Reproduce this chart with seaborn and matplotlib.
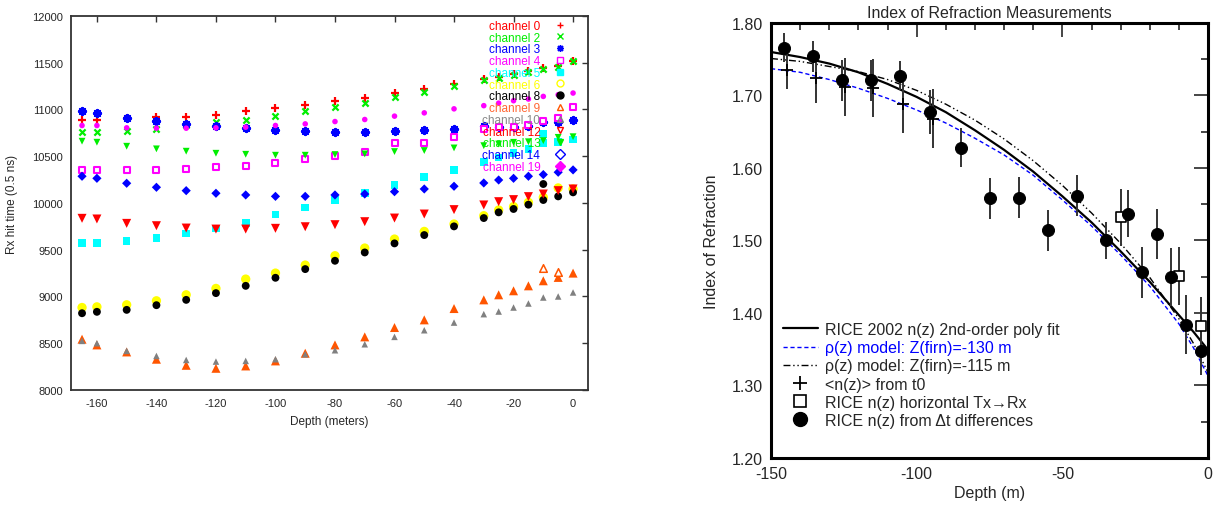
import matplotlib
matplotlib.use("Agg")
import matplotlib.pyplot as plt
from matplotlib.lines import Line2D
from matplotlib.ticker import MultipleLocator, FormatStrFormatter
import seaborn as sns

sns.set_style("white")
plt.rcParams['font.family'] = ['Liberation Sans', 'DejaVu Sans']
plt.rcParams['axes.unicode_minus'] = False

# ---------------- left panel data ----------------
depths = [-165, -160, -150, -140, -130, -120, -110, -100, -90, -80, -70,
          -60, -50, -40, -30, -25, -20, -15, -10, -5, 0]

ch0 = [10893, 10893, 10905, 10918, 10925, 10946, 10979, 11011, 11050, 11089, 11125,
       11179, 11219, 11275, 11330, 11348, 11380, 11410, 11440, 11468, 11515]
ch2 = [10757, 10757, 10768, 10793, 10830, 10864, 10889, 10929, 10979, 11025, 11071,
       11132, 11186, 11251, 11320, 11340, 11365, 11398, 11430, 11455, 11520]
ch3 = [10979, 10961, 10911, 10882, 10846, 10821, 10800, 10782, 10775, 10764, 10764,
       10775, 10786, 10793, 10820, 10812, 10815, 10828, 10862, 10866, 10888]
ch4 = [10357, 10357, 10354, 10350, 10364, 10382, 10400, 10429, 10471, 10507, 10543,
       10643, 10643, 10704, 10790, 10818, 10818, 10836, 10880, 10905, 11027]
ch5 = [9571, 9571, 9596, 9625, 9675, 9729, 9786, 9875, 9950, 10032, 10104,
       10193, 10275, 10354, 10440, 10485, 10533, 10578, 10639, 10650, 10679]
ch6 = [8882, 8889, 8911, 8954, 9018, 9086, 9186, 9250, 9336, 9436, 9518,
       9614, 9696, 9775, 9864, 9925, 9961, 10007, 10061, 10161, 10150]
ch8 = [8821, 8836, 8857, 8907, 8964, 9036, 9114, 9200, 9293, 9382, 9471,
       9568, 9657, 9750, 9839, 9900, 9936, 9982, 10032, 10071, 10114]
ch9 = [8543, 8482, 8407, 8329, 8264, 8232, 8257, 8311, 8393, 8482, 8568,
       8668, 8750, 8871, 8964, 9018, 9061, 9114, 9168, 9204, 9250]
ch10 = [8525, 8500, 8418, 8364, 8321, 8304, 8311, 8329, 8382, 8425, 8489,
        8568, 8639, 8721, 8811, 8839, 8882, 8925, 8989, 9000, 9043]
ch12 = [9836, 9829, 9782, 9757, 9732, 9721, 9721, 9729, 9746, 9768, 9800,
        9839, 9882, 9929, 9979, 10014, 10036, 10068, 10096, 10132, 10150]
ch13 = [10661, 10650, 10607, 10579, 10554, 10532, 10521, 10511, 10511, 10518, 10525,
        10550, 10561, 10589, 10613, 10631, 10649, 10655, 10667, 10702, 10709]
ch14 = [10286, 10264, 10211, 10168, 10132, 10104, 10086, 10071, 10071, 10086, 10096,
        10121, 10150, 10179, 10214, 10246, 10264, 10286, 10304, 10329, 10354]
ch19 = [10829, 10829, 10804, 10800, 10800, 10804, 10811, 10829, 10846, 10871, 10893,
        10929, 10964, 11007, 11041, 11068, 11094, 11112, 11140, 11158, 11176]

# extra (repeated) hits
extra5_depth, extra5_val = [-10], [10738]
extra8_depth, extra8_val = [-10], [10203]
extra9_depth, extra9_val = [-10, -5], [9304, 9264]

channel_names = ["channel 0", "channel 2", "channel 3", "channel 4", "channel 5",
                 "channel 6", "channel 8", "channel 9", "channel 10", "channel 12",
                 "channel 13", "channel 14", "channel 19"]
channel_values = [ch0, ch2, ch3, ch4, ch5, ch6, ch8, ch9, ch10, ch12, ch13, ch14, ch19]

# ---------------- right panel data ----------------
dt_depth = [-145.7, -135.7, -125.6, -115.8, -105.7, -95.3, -84.9, -74.8, -64.9,
            -54.9, -45.1, -35.0, -27.5, -22.5, -17.4, -12.6, -7.6, -2.5]
dt_n = [1.766, 1.754, 1.721, 1.721, 1.727, 1.677, 1.628, 1.558, 1.559,
        1.514, 1.562, 1.500, 1.537, 1.456, 1.509, 1.450, 1.384, 1.348]
dt_err = [0.020, 0.021, 0.028, 0.028, 0.020, 0.030, 0.027, 0.028, 0.028,
          0.028, 0.028, 0.025, 0.032, 0.035, 0.035, 0.040, 0.041, 0.033]

t0_depth = [-144.6, -134.7, -124.7, -114.9, -104.8, -94.3]
t0_n = [1.735, 1.724, 1.712, 1.711, 1.688, 1.668]
t0_err = [0.026, 0.035, 0.040, 0.040, 0.040, 0.041]

hz_depth = [-30.0, -10.0, -2.5]
hz_n = [1.532, 1.4515, 1.3816]
hz_err = [0.039, 0.040, 0.040]

curve_depth = [-150, -140, -130, -120, -110, -100, -90, -80, -70, -60, -50,
               -40, -30, -20, -10, -5, 0]
poly_fit = [1.760, 1.753, 1.744, 1.732, 1.716, 1.698, 1.677, 1.652, 1.625, 1.595,
            1.561, 1.525, 1.485, 1.443, 1.397, 1.374, 1.349]
model_130 = [1.737, 1.732, 1.722, 1.710, 1.696, 1.680, 1.662, 1.641, 1.618, 1.590,
             1.556, 1.520, 1.480, 1.437, 1.385, 1.352, 1.313]
model_115 = [1.751, 1.747, 1.740, 1.733, 1.722, 1.707, 1.688, 1.666, 1.640, 1.610,
             1.576, 1.538, 1.496, 1.449, 1.392, 1.358, 1.318]

legend_labels_right = ["RICE 2002 n(z) 2nd-order poly fit",
                       "\u03c1(z) model: Z(firn)=-130 m",
                       "\u03c1(z) model: Z(firn)=-115 m",
                       "<n(z)> from t0",
                       "RICE n(z) horizontal Tx\u2192Rx",
                       "RICE n(z) from \u0394t differences"]

# ---------------- styles ----------------
styles = {
    "channel 0": dict(color='#ff0000', marker='+', s=30, lw=1.6, leg=dict(marker='+', mfc='#ff0000')),
    "channel 2": dict(color='#00ee00', marker='x', s=20, lw=1.6, leg=dict(marker='x', mfc='#00ee00')),
    "channel 3": dict(color='#0000ff', marker=(8, 2, 0), s=24, lw=1.8, leg=dict(marker=(8, 2, 0), mfc='#0000ff')),
    "channel 4": dict(color='white', ec='#ff00ff', marker='s', s=20, lw=1.5, leg=dict(marker='s', mfc='white')),
    "channel 5": dict(color='#00ffff', marker='s', s=30, lw=0, leg=dict(marker='s', mfc='#00ffff')),
    "channel 6": dict(color='#ffff00', marker='o', s=45, lw=0, leg=dict(marker='o', mfc='none')),
    "channel 8": dict(color='#000000', marker='o', s=32, lw=0, leg=dict(marker='o', mfc='#000000')),
    "channel 9": dict(color='#ff5500', marker='^', s=42, lw=0, leg=dict(marker='^', mfc='none')),
    "channel 10": dict(color='#808080', marker='^', s=22, lw=0, leg=dict(marker='^', mfc='none')),
    "channel 12": dict(color='#ff0000', marker='v', s=42, lw=0, leg=dict(marker='v', mfc='none')),
    "channel 13": dict(color='#00ee00', marker='v', s=24, lw=0, leg=dict(marker='v', mfc='#00ee00')),
    "channel 14": dict(color='#0000ff', marker='D', s=22, lw=0, leg=dict(marker='D', mfc='none')),
    "channel 19": dict(color='#ff00ff', marker='o', s=16, lw=0, leg=dict(marker='D', mfc='#ff00ff')),
}
text_colors = {"channel 0": '#ff0000', "channel 2": '#00ee00', "channel 3": '#0000ff',
               "channel 4": '#ff00ff', "channel 5": '#00ffff', "channel 6": '#ffff00',
               "channel 8": '#000000', "channel 9": '#ff6633', "channel 10": '#888888',
               "channel 12": '#ff0000', "channel 13": '#00ee00', "channel 14": '#0000ff',
               "channel 19": '#ff00ff'}

fig = plt.figure(figsize=(12.14, 5.06), dpi=100)
ax1 = fig.add_axes([0.0585, 0.2273, 0.4258, 0.7391])
ax2 = fig.add_axes([0.6351, 0.0929, 0.3600, 0.8597])

# ---------------- left panel ----------------
handles = []
for name, vals in zip(channel_names, channel_values):
    st = styles[name]
    kw = dict(x=depths, y=vals, ax=ax1, marker=st['marker'], s=st['s'],
              color=st['color'], linewidth=st['lw'], zorder=3)
    if 'ec' in st:
        kw['edgecolor'] = st['ec']
    elif st['lw'] == 0:
        kw['edgecolor'] = 'none'
    sns.scatterplot(**kw)
    if name == "channel 5":
        sns.scatterplot(x=extra5_depth, y=extra5_val, ax=ax1, marker='s', s=30,
                        color='#00ffff', edgecolor='none', zorder=3)
    if name == "channel 8":
        sns.scatterplot(x=extra8_depth, y=extra8_val, ax=ax1, marker='o', s=32,
                        color='black', edgecolor='none', zorder=3)
    if name == "channel 9":
        sns.scatterplot(x=extra9_depth, y=extra9_val, ax=ax1, marker='^', s=30,
                        color='white', edgecolor='#ff5500', linewidth=1.1, zorder=3)
    lg = st['leg']
    mec = st.get('ec', st['color']) if name != "channel 4" else '#ff00ff'
    if name == "channel 6":
        mec = '#ffff00'
    handles.append(Line2D([], [], ls='none', marker=lg['marker'], mfc=lg['mfc'],
                          mec=mec, ms=5, mew=1.0))

leg1 = ax1.legend(handles, channel_names, loc='upper right', bbox_to_anchor=(0.965, 0.99),
                  frameon=False, markerfirst=False, fontsize=8.5, labelspacing=-0.02,
                  handlelength=1.6, handletextpad=0.9, borderpad=0, borderaxespad=0)
for t, name in zip(leg1.get_texts(), channel_names):
    t.set_color(text_colors[name])

ax1.set_xlim(-168.7, 5)
ax1.set_ylim(8000, 12000)
ax1.xaxis.set_major_locator(MultipleLocator(20))
ax1.yaxis.set_major_locator(MultipleLocator(500))
ax1.tick_params(direction='in', top=True, right=True, length=4, width=1,
                labelsize=8, pad=6, color='#333333')
for sp in ax1.spines.values():
    sp.set_linewidth(1.3)
    sp.set_color('#333333')
ax1.set_xlabel("Depth (meters)", fontsize=8.5, labelpad=5)
ax1.set_ylabel("Rx hit time (0.5 ns)", fontsize=8.5, labelpad=10)

# ---------------- right panel ----------------
sns.lineplot(x=curve_depth, y=poly_fit, ax=ax2, color='black', linewidth=1.6, zorder=2)
sns.lineplot(x=curve_depth, y=model_130, ax=ax2, color='#0000ff', linewidth=1.0,
             linestyle=(0, (3, 2)), zorder=2)
sns.lineplot(x=curve_depth, y=model_115, ax=ax2, color='black', linewidth=1.0,
             linestyle=(0, (5, 2, 1, 2, 1, 2)), zorder=2)

ax2.errorbar(t0_depth, t0_n, yerr=t0_err, fmt='none', ecolor='#333333', elinewidth=1.4, zorder=3)
ax2.errorbar(dt_depth, dt_n, yerr=dt_err, fmt='none', ecolor='#333333', elinewidth=1.4, zorder=3)
ax2.errorbar(hz_depth, hz_n, yerr=hz_err, fmt='none', ecolor='#333333', elinewidth=1.4, zorder=3)
sns.scatterplot(x=t0_depth, y=t0_n, ax=ax2, marker='+', s=70, color='black', linewidth=1.3, zorder=4)
sns.scatterplot(x=hz_depth, y=hz_n, ax=ax2, marker='s', s=60, color='white',
                edgecolor='black', linewidth=1.2, zorder=4)
sns.scatterplot(x=dt_depth, y=dt_n, ax=ax2, marker='o', s=75, color='black',
                edgecolor='black', zorder=5)

rh = [Line2D([], [], color='black', lw=1.6),
      Line2D([], [], color='#0000ff', lw=1.0, ls=(0, (3, 2))),
      Line2D([], [], color='black', lw=1.0, ls=(0, (5, 2, 1, 2, 1, 2))),
      Line2D([], [], ls='none', marker='+', color='black', ms=10, mew=1.3),
      Line2D([], [], ls='none', marker='s', mfc='white', mec='black', ms=9, mew=1.2),
      Line2D([], [], ls='none', marker='o', color='black', ms=10)]
leg2 = ax2.legend(rh, legend_labels_right, loc='lower left', bbox_to_anchor=(0.027, 0.069),
                  frameon=False, fontsize=11.5, handlelength=2.2, handletextpad=0.45,
                  labelspacing=0.2, borderpad=0, borderaxespad=0)
leg2.get_texts()[1].set_color('#0000ff')

ax2.set_xlim(-150, 0)
ax2.set_ylim(1.2, 1.8)
ax2.xaxis.set_major_locator(MultipleLocator(50))
ax2.xaxis.set_minor_locator(MultipleLocator(10))
ax2.yaxis.set_major_locator(MultipleLocator(0.1))
ax2.yaxis.set_minor_locator(MultipleLocator(0.05))
ax2.yaxis.set_major_formatter(FormatStrFormatter('%.2f'))
ax2.tick_params(which='major', direction='in', top=True, right=True, length=10,
                width=1.2, labelsize=11.5, pad=6)
ax2.tick_params(which='minor', direction='in', top=True, right=True, length=5, width=1.2)
for sp in ax2.spines.values():
    sp.set_linewidth(2.2)
    sp.set_color('black')
ax2.set_title("Index of Refraction Measurements", fontsize=11.5, pad=4)
ax2.set_xlabel("Depth (m)", fontsize=11.5, labelpad=3)
ax2.set_ylabel("Index of Refraction", fontsize=11.5, labelpad=9)

fig.savefig("out.png", dpi=100)
